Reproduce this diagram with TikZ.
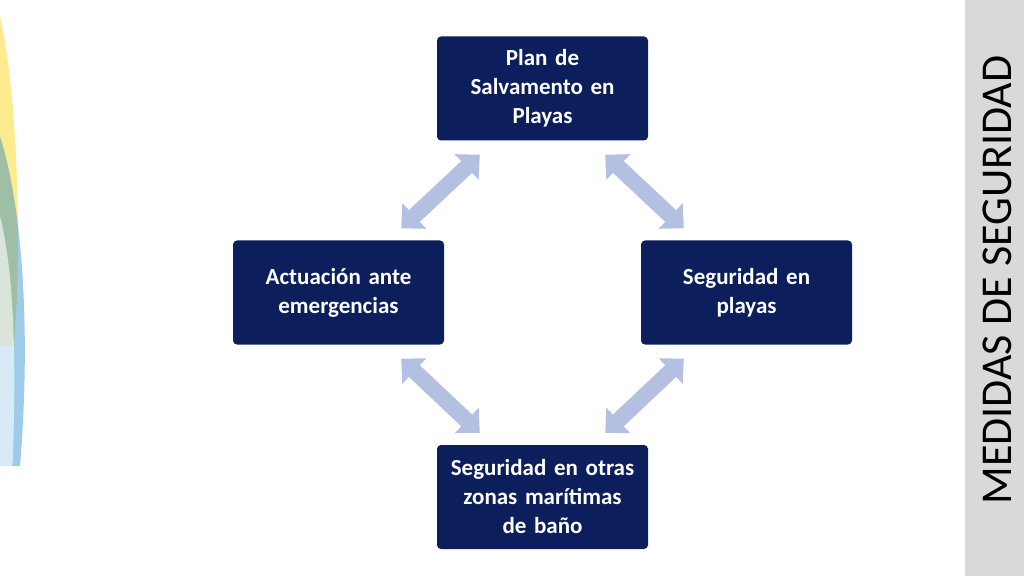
\documentclass[tikz,border=0pt]{standalone}
\usepackage{fontspec}
\setmainfont{Carlito}
\usetikzlibrary{arrows.meta,calc}
\definecolor{navy}{HTML}{0C1F5C}
\definecolor{lav}{HTML}{B3C0E2}
\definecolor{barg}{HTML}{D9D9D9}
\begin{document}
\begin{tikzpicture}[x=1pt,y=1pt]
        \tikzstyle{box} = [fill=navy,rounded corners=4pt,minimum width=211pt,minimum height=104pt,
            text width=200pt,align=center,text=white,font=\fontsize{23}{29}\selectfont\bfseries]
        \tikzstyle{dbl} = [lav,line width=16pt,{Triangle[width=34pt,length=18pt]}-{Triangle[width=34pt,length=18pt]}]

        \useasboundingbox (0,0) rectangle (1024,576);
        % swoosh on the left
        \fill[yellow!70!orange,opacity=0.45] (0,560) .. controls (18,480) and (22,330) .. (14,230) -- (0,230) -- cycle;
        \fill[cyan!60!blue,opacity=0.4] (0,440) .. controls (25,360) and (30,230) .. (20,110) -- (0,110) -- cycle;
        \fill[white,opacity=0.6] (0,360) .. controls (15,300) and (18,200) .. (10,60) -- (0,60) -- cycle;
        % side bar
        \fill[barg] (965,0) rectangle (1024,576);
        \node[rotate=90,font=\fontsize{44}{44}\selectfont] (title) at (997,296) {MEDIDAS DE SEGURIDAD};

        \node[box] (top) at (542.5,487.5) {Plan de\\Salvamento en\\Playas};
        \node[box] (left) at (338.5,283.5) {Actuación ante\\emergencias};
        \node[box] (right) at (746.5,283.5) {Seguridad en\\playas};
        \node[box] (bottom) at (542.5,79) {Seguridad en otras\\zonas marítimas\\de baño};

        \draw[dbl] ($(top.south west)+(43,-14)$) -- ($(left.north east)+(-43,12)$);
        \draw[dbl] ($(top.south east)+(-43,-14)$) -- ($(right.north west)+(43,12)$);
        \draw[dbl] ($(left.south east)+(-43,-14)$) -- ($(bottom.north west)+(43,12)$);
        \draw[dbl] ($(right.south west)+(43,-14)$) -- ($(bottom.north east)+(-43,12)$);

    \end{tikzpicture}
\end{document}
